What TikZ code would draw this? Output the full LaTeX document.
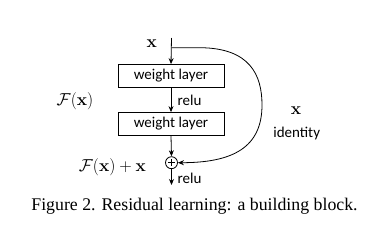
\documentclass[tikz,border=0pt]{standalone}
\usepackage[no-math]{fontspec}
\setmainfont{Liberation Serif}
\newfontfamily\calib{Carlito}
\usetikzlibrary{arrows.meta}
\begin{document}
\begin{tikzpicture}[x=1pt,y=-1pt,
  wl/.style={draw,line width=0.8pt,minimum width=106pt,minimum height=23pt,inner sep=0pt,font=\calib\fontsize{15}{15}\selectfont},
  sans/.style={font=\calib\fontsize{15}{15}\selectfont,inner sep=0pt},
  mth/.style={font=\fontsize{17}{17}\selectfont,inner sep=0pt},
  conn/.style={line width=0.8pt,-{Stealth[length=6pt,width=5pt]}},
  plain/.style={line width=0.8pt}]
\useasboundingbox (0,0) rectangle (377,228);
\coordinate (top) at (171.5,38);
\coordinate (split) at (171.5,47.7);
\node[wl] (w1) at (171,76) {weight layer};
\node[wl] (w2) at (171,124) {weight layer};
\node[draw,circle,line width=0.8pt,minimum size=12pt,inner sep=0pt] (add) at (171.5,162.7) {};
\coordinate (bot) at (171.5,185);
\draw[plain] (add.center) ++(-3.6,0) -- ++(7.2,0);
\draw[plain] (add.center) ++(0,-3.6) -- ++(0,7.2);
\draw[conn] (top) -- (w1.north);
\draw[conn] (w1.south) -- (w2.north);
\draw[conn] (w2.south) -- (add.north);
\draw[conn] (add.south) -- (bot);
\draw[conn] (split) -- (200,47.7) .. controls (250,48) and (262,75) .. (262,105) .. controls (262,148) and (232,162.7) .. (add.east);
\node[mth] (xin) at (151.7,44) {$\mathbf{x}$};
\node[sans,anchor=west] (relu1) at (177.5,100) {relu};
\node[sans,anchor=west] (relu2) at (177.5,178) {relu};
\node[mth] (fx) at (75,101) {$\mathcal{F}(\mathbf{x})$};
\node[mth,anchor=east] (fxx) at (146,166.7) {$\mathcal{F}(\mathbf{x})+\mathbf{x}$};
\node[mth] (xid) at (296,110.7) {$\mathbf{x}$};
\node[sans] (ident) at (296.7,133.3) {identity};
\node[font=\fontsize{17.8}{18}\selectfont,inner sep=0pt,anchor=base] (cap) at (194.5,210) {Figure 2. Residual learning: a building block.};
\end{tikzpicture}
\end{document}
